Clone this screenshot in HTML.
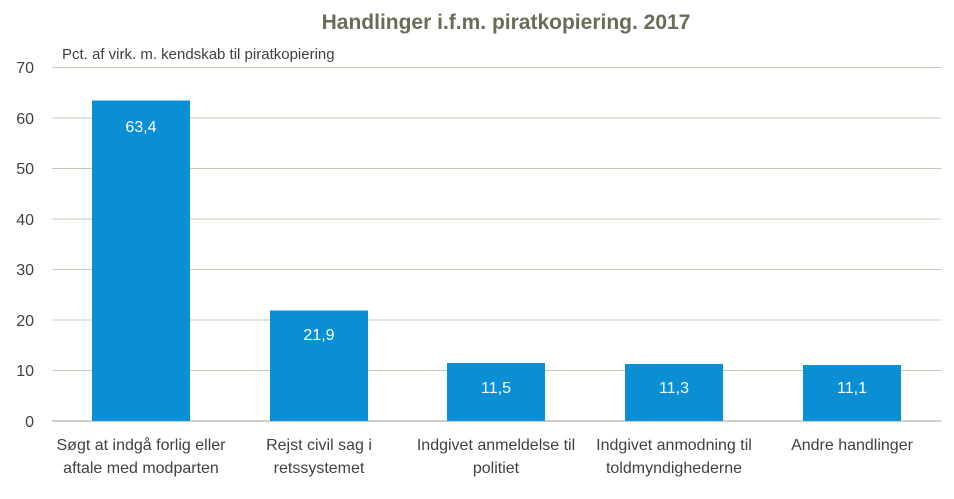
<!DOCTYPE html>
<html><head><meta charset="utf-8"><style>
body{margin:0;background:#fff;}
svg{display:block;font-family:"Liberation Sans Narrow","Liberation Sans",sans-serif;}
</style></head><body>
<svg width="954" height="499" viewBox="0 0 954 499" xmlns="http://www.w3.org/2000/svg">
<rect width="954" height="499" fill="#fff"/>
<text x="506" y="29" text-anchor="middle" font-size="21" font-weight="bold" fill="#6b6b58">Handlinger i.f.m. piratkopiering. 2017</text>
<text x="62" y="59" font-size="15" fill="#404040">Pct. af virk. m. kendskab til piratkopiering</text>
<g stroke="#c8c8b4" stroke-width="1">
<line x1="52" y1="67.5" x2="941" y2="67.5"/>
<line x1="52" y1="118" x2="941" y2="118"/>
<line x1="52" y1="168.5" x2="941" y2="168.5"/>
<line x1="52" y1="219" x2="941" y2="219"/>
<line x1="52" y1="269.5" x2="941" y2="269.5"/>
<line x1="52" y1="320" x2="941" y2="320"/>
<line x1="52" y1="370.5" x2="941" y2="370.5"/>
</g>
<line x1="52" y1="421" x2="941" y2="421" stroke="#a0a090" stroke-width="1"/>
<g font-size="16" fill="#404040" text-anchor="end">
<text x="34" y="73">70</text><text x="34" y="124">60</text><text x="34" y="174">50</text>
<text x="34" y="225">40</text><text x="34" y="275">30</text><text x="34" y="326">20</text>
<text x="34" y="376">10</text><text x="34" y="427">0</text>
</g>
<g fill="#0a8fd4">
<rect x="92" y="100.5" width="98" height="320.5"/>
<rect x="270" y="310.5" width="98" height="110.5"/>
<rect x="447" y="363" width="98" height="58"/>
<rect x="625" y="364" width="98" height="57"/>
<rect x="803" y="365" width="98" height="56"/>
</g>
<g font-size="16" fill="#fff" text-anchor="middle">
<text x="141" y="132">63,4</text><text x="319" y="340">21,9</text>
<text x="496" y="393">11,5</text><text x="674" y="393">11,3</text><text x="852" y="393">11,1</text>
</g>
<g font-size="16" fill="#404040" text-anchor="middle">
<text x="141" y="450">Søgt at indgå forlig eller</text><text x="141" y="473">aftale med modparten</text>
<text x="319" y="450">Rejst civil sag i</text><text x="319" y="473">retssystemet</text>
<text x="496" y="450">Indgivet anmeldelse til</text><text x="496" y="473">politiet</text>
<text x="674" y="450">Indgivet anmodning til</text><text x="674" y="473">toldmyndighederne</text>
<text x="852" y="450">Andre handlinger</text>
</g>
</svg>
</body></html>
